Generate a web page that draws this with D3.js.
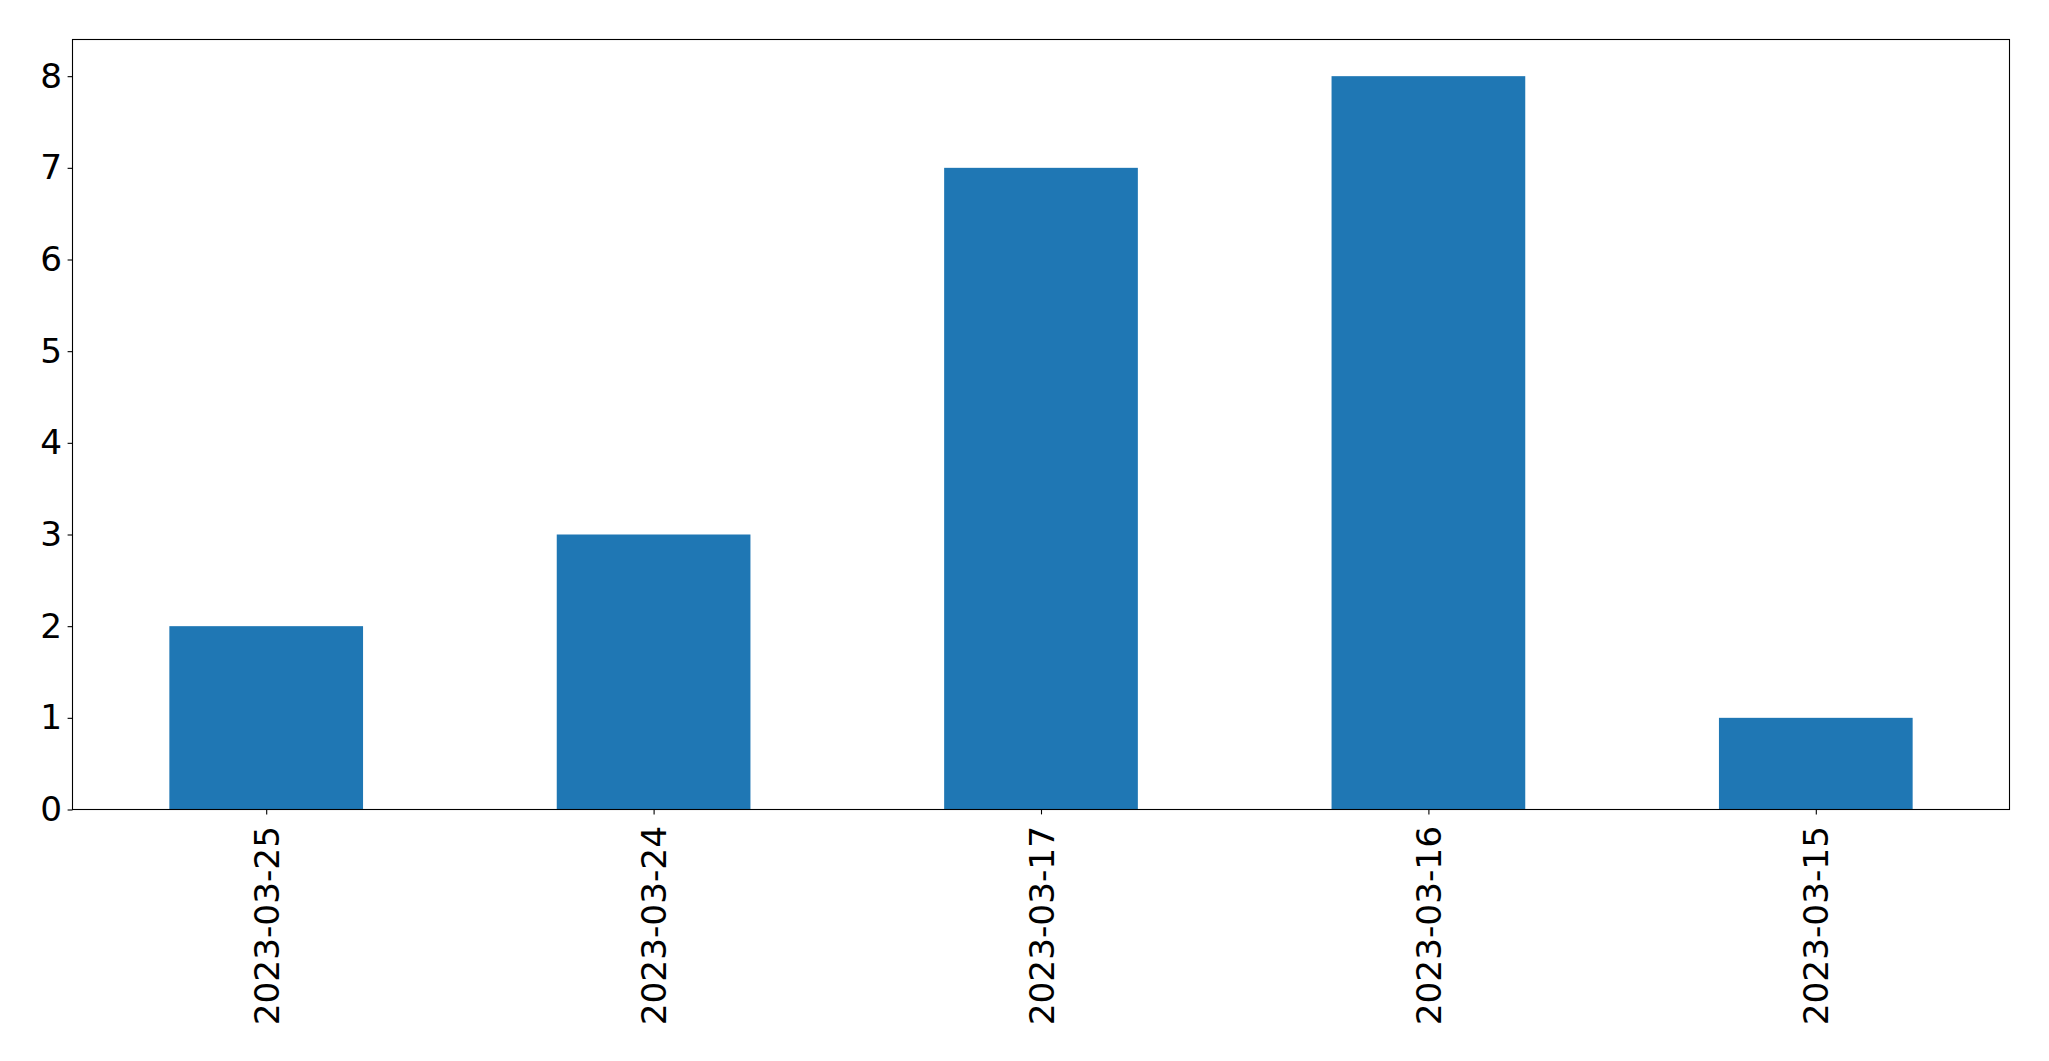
<!DOCTYPE html>
<html>
<head>
<meta charset="utf-8">
<script src="https://cdn.jsdelivr.net/npm/d3@7"></script>
<style>
  body { margin: 0; background: #fff; }
  text { font-family: "DejaVu Sans", sans-serif; fill: #000; }
</style>
</head>
<body>
<div id="graphic"></div>
<script>
// bar chart, counts per date
var dates = ['2023-03-25', '2023-03-24', '2023-03-17', '2023-03-16', '2023-03-15'];
var counts = [2, 3, 7, 8, 1];
var yTicks = [0, 1, 2, 3, 4, 5, 6, 7, 8];

(function () {
  var width = 2049;
  var height = 1061;
  var margin = { left: 72.5, right: 2009.5, top: 39.5, bottom: 809.5 };
  var fontSize = 34.3;

  var svg = d3.select('#graphic').append('svg')
    .attr('width', width)
    .attr('height', height);

  // x goes from -0.5 to n-0.5 like pandas does
  var x = d3.scaleLinear()
    .domain([-0.5, dates.length - 0.5])
    .range([margin.left, margin.right]);

  var y = d3.scaleLinear()
    .domain([0, d3.max(counts) * 1.05])
    .range([margin.bottom, margin.top]);

  var barW = x(0.5) - x(0);

  svg.append('g')
    .selectAll('rect')
    .data(counts)
    .enter().append('rect')
    .attr('x', (d, i) => x(i) - barW / 2)
    .attr('width', barW)
    .attr('y', d => y(d))
    .attr('height', d => y(0) - y(d))
    .attr('fill', '#1f77b4');

  // y axis
  var yAxis = svg.append('g')
    .attr('transform', 'translate(' + margin.left + ',0)')
    .call(d3.axisLeft(y).tickValues(yTicks).tickFormat(d3.format('d')).tickSize(4.9).tickPadding(5.5));

  yAxis.select('.domain').remove();
  yAxis.selectAll('line').attr('stroke', '#000').attr('stroke-width', 1.1);
  yAxis.selectAll('text')
    .style('font-size', fontSize + 'px')
    .attr('font-family', null);

  // x axis
  var xAxis = svg.append('g')
    .attr('transform', 'translate(0,' + margin.bottom + ')')
    .call(d3.axisBottom(x).tickValues(d3.range(dates.length)).tickFormat(i => dates[i]).tickSize(4.9));

  xAxis.select('.domain').remove();
  xAxis.selectAll('line').attr('stroke', '#000').attr('stroke-width', 1.1);
  xAxis.selectAll('text')
    .style('font-size', fontSize + 'px')
    .attr('font-family', null)
    .attr('y', 0)
    .attr('dy', '0.35em')
    .attr('text-anchor', 'end')
    .attr('transform', 'translate(0,' + 16.5 + ') rotate(-90)');

  // frame
  svg.append('rect')
    .attr('x', margin.left)
    .attr('y', margin.top)
    .attr('width', margin.right - margin.left)
    .attr('height', margin.bottom - margin.top)
    .attr('fill', 'none')
    .attr('stroke', '#000')
    .attr('stroke-width', 1.1);
})()
</script>
</body>
</html>
